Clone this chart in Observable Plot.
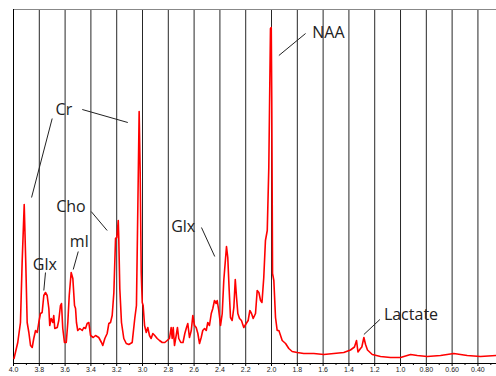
<!DOCTYPE html>
<html>
<head>
<meta charset="utf-8">
<script src="https://cdn.jsdelivr.net/npm/d3@7"></script>
<script src="https://cdn.jsdelivr.net/npm/@observablehq/plot@0.6"></script>
<style>
  html, body { margin: 0; padding: 0; background: #fff; }
  #chart svg { display: block; }
</style>
</head>
<body>
<div id="chart"></div>
<script>
// Chemical shift (ppm) and signal intensity (arbitrary units) of the spectrum
const ppm = [3.996,3.967,3.946,3.933,3.917,3.905,3.894,3.881,3.868,3.855,3.843,3.829,3.816,3.804,3.791,3.778,3.765,3.752,3.739,3.726,
  3.719,3.708,3.695,3.688,3.680,3.661,3.649,3.636,3.628,3.618,3.605,3.591,3.579,3.568,3.553,3.540,3.527,3.519,3.512,3.502,
  3.486,3.467,3.455,3.442,3.429,3.416,3.403,3.382,3.364,3.339,3.318,3.308,3.292,3.274,3.261,3.248,3.235,3.222,3.209,3.199,
  3.188,3.184,3.176,3.163,3.145,3.126,3.106,3.080,3.060,3.047,3.036,3.026,3.018,3.010,3.002,2.995,2.984,2.971,2.959,2.946,
  2.933,2.920,2.905,2.886,2.868,2.847,2.827,2.809,2.791,2.778,2.770,2.762,2.752,2.739,2.729,2.719,2.703,2.686,2.672,2.659,
  2.649,2.636,2.622,2.610,2.597,2.584,2.571,2.558,2.545,2.533,2.519,2.506,2.494,2.481,2.467,2.455,2.442,2.429,2.421,2.409,
  2.395,2.382,2.370,2.349,2.339,2.328,2.318,2.305,2.292,2.281,2.271,2.261,2.248,2.233,2.215,2.196,2.181,2.168,2.155,2.142,
  2.124,2.111,2.098,2.085,2.074,2.060,2.047,2.033,2.021,2.008,2.002,1.998,1.992,1.982,1.969,1.956,1.943,1.917,1.891,1.866,
  1.840,1.801,1.750,1.672,1.595,1.517,1.440,1.388,1.357,1.341,1.330,1.310,1.300,1.284,1.271,1.256,1.219,1.155,1.078,1.000,
  0.922,0.870,0.793,0.690,0.587,0.483,0.380,0.256];
const intensity = [5,21,41,101,159,101,41,31,18,16,25,33,31,41,50,51,68,71,68,55,
  38,45,41,48,35,36,43,58,60,35,21,21,41,68,91,85,58,55,41,33,
  35,33,36,35,40,41,28,26,28,26,21,18,25,30,40,41,48,71,125,126,
  143,125,75,41,25,20,19,21,45,58,158,252,191,91,61,58,38,31,36,28,
  25,30,28,25,23,21,21,23,25,36,25,36,18,28,36,25,21,21,30,36,
  40,26,33,48,38,36,30,20,26,33,35,33,41,38,50,55,63,60,63,53,
  38,50,83,117,106,73,46,43,56,84,66,50,45,43,36,40,43,53,50,45,
  50,73,71,63,61,86,123,133,196,335,336,263,90,83,46,33,33,23,20,15,
  12,11,10,10,9,10,11,13.5,16.5,23,11.5,15,16.5,26,19,13.5,9,7,6,6,
  9,8,7,8,10,8,7,8];

// Axis ticks
const majorTicks = [4.0,3.8,3.6,3.4,3.2,3.0,2.8,2.6,2.4,2.2,2.0,1.8,1.6,1.4,1.2,1.0,0.8,0.6,0.4];
const minorTicks = [3.9,3.7,3.5,3.3,3.1,2.9,2.7,2.5,2.3,2.1,1.9,1.7,1.5,1.3,1.1,0.9,0.7,0.5,0.3];
const gridLines = majorTicks.slice(1);

// Metabolite labels (text anchor at left baseline) and leader lines
const labelNames = ["NAA","Cr","Cho","mI","Glx","Glx","Lactate"];
const labelPpm   = [1.684, 3.674, 3.669, 3.564, 3.850, 2.778, 1.129];
const labelVal   = [326, 249, 152, 117, 94, 132, 44];

const leaderX1 = [1.736, 3.700, 3.467, 3.398, 3.498, 3.752, 2.543, 1.160];
const leaderY1 = [330, 245, 254, 152, 112, 91, 136, 44];
const leaderX2 = [1.943, 3.860, 3.114, 3.274, 3.537, 3.765, 2.440, 1.284];
const leaderY2 = [308, 166, 241, 133, 94, 73, 107, 29];

const spectrum = ppm.map((p, i) => ({ppm: p, v: intensity[i]}));
const labels = labelNames.map((t, i) => ({t, x: labelPpm[i], y: labelVal[i]}));
const leaders = leaderX1.map((x1, i) => ({x1, y1: leaderY1[i], x2: leaderX2[i], y2: leaderY2[i]}));

const chart = Plot.plot({
  width: 496,
  height: 376,
  marginLeft: 13,
  marginRight: 0,
  marginTop: 9,
  marginBottom: 13,
  style: {fontFamily: "Open Sans", background: "#fff"},
  x: {domain: [4.0, 0.256], label: null},
  y: {domain: [0, 354], axis: null},
  marks: [
    Plot.ruleX(gridLines, {stroke: "#000", strokeWidth: 1, strokeOpacity: 0.85}),
    Plot.ruleY([354], {stroke: "#888", strokeWidth: 1}),
    Plot.ruleX([4.0], {stroke: "#000", strokeWidth: 1}),
    Plot.axisX({ticks: minorTicks, tickSize: 2, tickFormat: () => "", stroke: "#000"}),
    Plot.axisX({ticks: majorTicks, tickSize: 3, tickPadding: 1, fontSize: 7, fontFamily: "Liberation Sans",
      tickFormat: d => d >= 1 ? d.toFixed(1) : d.toFixed(2), stroke: "#000", fill: "#222"}),
    Plot.ruleY([0], {stroke: "#000", strokeWidth: 1}),
    Plot.line(spectrum, {x: "ppm", y: "v", stroke: "#ff0000", strokeWidth: 1.6, curve: "linear"}),
    Plot.link(leaders, {x1: "x1", y1: "y1", x2: "x2", y2: "y2", stroke: "#222", strokeWidth: 1}),
    Plot.text(labels, {x: "x", y: "y", text: "t", textAnchor: "start", lineAnchor: "bottom",
      fontSize: 16, fill: "#222", fontFamily: "Open Sans"})
  ]
});
document.getElementById("chart").appendChild(chart);
</script>
</body>
</html>
